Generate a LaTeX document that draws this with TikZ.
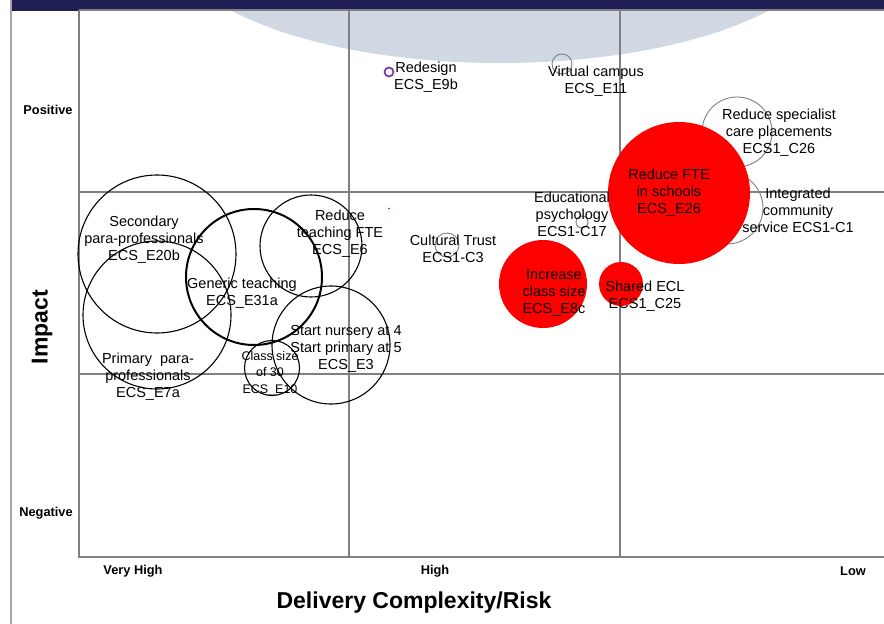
\documentclass[tikz,border=0pt]{standalone}
\usepackage{fontspec}
\setmainfont{Liberation Sans}
\definecolor{navy}{HTML}{1F1F55}
\definecolor{ellblue}{HTML}{D0D8E4}
\definecolor{gridgray}{HTML}{808080}
\definecolor{bubred}{HTML}{FF0000}
\definecolor{purp}{HTML}{7030A0}
\tikzset{
  gridline/.style={draw=gridgray, line width=1.3pt},
  bub/.style={circle, draw=black, line width=1.1pt, inner sep=0pt, minimum size=#1},
  thickbub/.style={circle, draw=black, line width=2pt, inner sep=0pt, minimum size=#1},
  graybub/.style={circle, draw=gridgray, line width=0.9pt, inner sep=0pt, minimum size=#1},
  redbub/.style={circle, fill=bubred, inner sep=0pt, minimum size=#1},
  lbl/.style={align=center, inner sep=0pt, font=\fontsize{14.5}{17}\selectfont},
  smalllbl/.style={align=center, inner sep=0pt, font=\fontsize{12.5}{16.5}\selectfont},
  axlbl/.style={inner sep=0pt, font=\fontsize{12.8}{15}\selectfont\bfseries},
  bigaxlbl/.style={inner sep=0pt, font=\fontsize{23}{27}\selectfont\bfseries},
}
\begin{document}
\begin{tikzpicture}[x=1pt,y=-1pt]
\useasboundingbox (0,0) rectangle (884,624);
\fill[white] (0,0) rectangle (884,624);
% decorative ellipse
\begin{scope}
\clip (0,10) rectangle (884,624);
\fill[ellblue] (500,-62) ellipse [x radius=330pt, y radius=125pt];
\end{scope}
% top bar and left frame
\fill[navy] (10,0) rectangle (884,10.5);
\fill[gridgray!70] (9.5,0) rectangle (12,624);
% plot frame and grid
\draw[gridline] (79,10) -- (884,10);
\draw[gridline] (79,10) -- (79,557) -- (884,557);
\draw[gridline] (349,10) -- (349,557);
\draw[gridline] (620,10) -- (620,557);
\draw[gridline] (79,192) -- (884,192);
\draw[gridline] (79,374) -- (884,374);
% red bubbles
\node[redbub=88pt] (b8c) at (543,284) {};
\node[redbub=44pt] (b25) at (621,284) {};
% gray bubbles
\node[graybub=70pt] (b26s) at (737,132) {};
\node[graybub=72pt] (b1) at (727,208) {};
\node[graybub=12pt] (b17) at (582,222) {};
\node[graybub=24pt] (b3) at (447,245) {};
\node[graybub=20pt] (b11) at (562,64) {};
\node[circle, draw=purp, line width=1.6pt, inner sep=0pt, minimum size=9pt] (b9b) at (389,72) {};
\fill[bubred] (389,208.5) circle [radius=0.9pt];
% big red bubble over the gray outlines
\node[redbub=142pt] (b26) at (679,193) {};
% black bubbles
\node[bub=158pt] (b20b) at (157,254) {};
\node[bub=148pt] (b7a) at (157,315) {};
\node[thickbub=136pt] (b31a) at (254,277) {};
\node[bub=102pt] (b6) at (311,246) {};
\node[bub=118pt] (b3e) at (331,345) {};
\node[bub=55pt] (b10) at (272,368) {};
% bubble labels
\node[lbl] (t20b) at (144,240) {Secondary\\para-professionals\\ECS\_E20b};
\node[lbl] (t7a) at (148,377) {Primary\ \ para-\\professionals\\ECS\_E7a};
\node[lbl] (t31a) at (242,293) {Generic teaching\\ECS\_E31a};
\node[lbl] (t6) at (340,234) {Reduce\\teaching FTE\\ECS\_E6};
\node[lbl] (t3e) at (346,349) {Start nursery at 4\\Start primary at 5\\ECS\_E3};
\node[smalllbl] (t10) at (270,373.5) {Class size\\of 30\\ECS\_E10};
\node[lbl] (t9b) at (426,77) {Redesign\\ECS\_E9b};
\node[lbl] (t11) at (596,81) {Virtual campus\\ECS\_E11};
\node[lbl] (t26s) at (779,133) {Reduce specialist\\care placements\\ECS1\_C26};
\node[lbl] (t26) at (669,193) {Reduce FTE\\in schools\\ECS\_E26};
\node[lbl] (t1) at (798,210) {Integrated\\community\\service ECS1-C1};
\node[lbl] (t17) at (572,214) {Educational\\psychology\\ECS1-C17};
\node[lbl] (t3) at (453,249) {Cultural Trust\\ECS1-C3};
\node[lbl] (t8c) at (554,293) {Increase\\class size\\ECS\_E8c};
\node[lbl] (t25) at (645,296) {Shared ECL\\ECS1\_C25};
% axis labels
\node[axlbl] (pos) at (48,110) {Positive};
\node[axlbl] (neg) at (46,513) {Negative};
\node[axlbl] (vh) at (133,571) {Very High};
\node[axlbl] (hi) at (435,571) {High};
\node[axlbl] (lo) at (853,571) {Low};
\node[bigaxlbl] (xt) at (414,603) {Delivery Complexity/Risk};
\node[bigaxlbl, rotate=90] (yt) at (42,327) {Impact};
\end{tikzpicture}
\end{document}
